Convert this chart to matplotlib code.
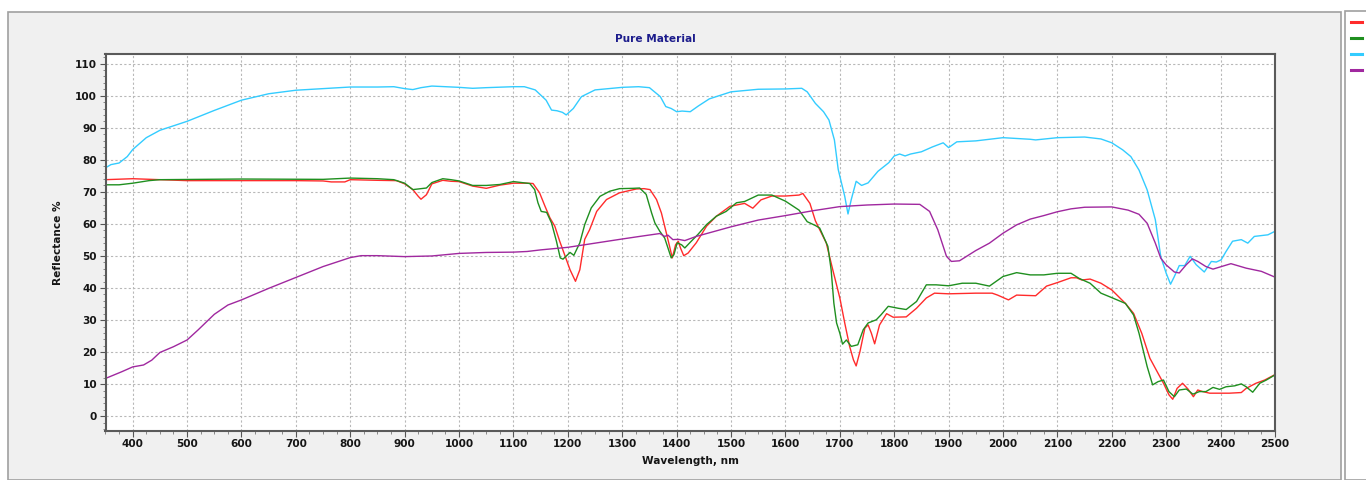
import numpy as np
import matplotlib
matplotlib.use('Agg')
import matplotlib.pyplot as plt
from matplotlib.patches import Rectangle
from matplotlib.lines import Line2D
from matplotlib.ticker import MultipleLocator

# spectra (wavelength nm, reflectance %)
red_wl = [350, 400, 450, 500, 600, 700, 750, 765, 790, 800, 850, 885, 900, 915, 925, 930, 940, 950,
          970, 985, 1000, 1025, 1050, 1075, 1100, 1125, 1136, 1148, 1158, 1167, 1176, 1185, 1194,
          1204, 1214, 1222, 1231, 1240, 1253, 1271, 1295, 1326, 1340, 1351, 1363, 1372, 1381, 1387,
          1392, 1398, 1403, 1407, 1413, 1421, 1436, 1455, 1473, 1498, 1525, 1540, 1555, 1575, 1600,
          1625, 1632, 1645, 1655, 1663, 1675, 1687, 1700, 1709, 1718, 1725, 1730, 1737, 1746, 1752,
          1758, 1764, 1773, 1786, 1798, 1822, 1841, 1859, 1874, 1900, 1950, 1980, 1990, 2010, 2025,
          2060, 2080, 2100, 2125, 2135, 2145, 2160, 2180, 2200, 2225, 2240, 2255, 2270, 2285, 2295,
          2305, 2312, 2320, 2330, 2340, 2350, 2358, 2367, 2380, 2416, 2438, 2447, 2465, 2481, 2500]
red_r = [73.8, 74.1, 73.8, 73.5, 73.5, 73.5, 73.4, 73.1, 73.1, 73.8, 73.6, 73.5, 72.5, 70.7, 68.6,
         67.7, 69.1, 72.5, 73.6, 73.3, 73.2, 71.8, 71.1, 72.1, 72.7, 72.7, 72.6, 69.7, 65.5, 61.9,
         59.3, 54.6, 50.4, 45.7, 42.1, 45.7, 55.2, 58.2, 63.9, 67.6, 69.7, 70.9, 71.0, 70.7, 67.6,
         63.4, 57.2, 53.0, 49.4, 53.5, 54.6, 52.5, 50.1, 50.9, 54.1, 59.3, 62.4, 65.5, 66.4, 64.9,
         67.5, 68.7, 68.7, 69.0, 69.5, 66.4, 61.0, 58.2, 54.1, 45.7, 36.9, 29.1, 21.8, 17.6, 15.7,
         20.2, 27.5, 28.5, 25.9, 22.6, 28.5, 32.0, 30.9, 31.0, 33.7, 36.9, 38.4, 38.2, 38.4, 38.4,
         37.8, 36.3, 37.8, 37.6, 40.6, 41.7, 43.2, 43.2, 42.5, 42.8, 41.5, 39.4, 35.2, 32.1, 25.9,
         18.1, 13.4, 10.3, 6.7, 5.3, 8.7, 10.3, 8.5, 6.1, 8.2, 7.7, 7.2, 7.2, 7.4, 8.7, 10.3, 11.3,
         13.0]

green_wl = [350, 375, 400, 430, 450, 600, 750, 800, 850, 880, 900, 915, 925, 940, 950, 970, 985,
            1000, 1025, 1050, 1075, 1100, 1130, 1139, 1145, 1151, 1161, 1170, 1179, 1186, 1191, 1204,
            1211, 1222, 1231, 1243, 1259, 1277, 1295, 1320, 1332, 1344, 1354, 1360, 1369, 1378, 1384,
            1390, 1395, 1401, 1409, 1415, 1424, 1439, 1455, 1473, 1491, 1510, 1525, 1550, 1575, 1600,
            1625, 1640, 1655, 1663, 1678, 1684, 1689, 1694, 1700, 1705, 1712, 1721, 1733, 1743, 1752,
            1767, 1776, 1789, 1807, 1822, 1841, 1859, 1877, 1900, 1925, 1950, 1975, 2000, 2025, 2050,
            2075, 2100, 2125, 2140, 2160, 2180, 2200, 2225, 2240, 2250, 2265, 2275, 2285, 2295, 2305,
            2315, 2324, 2337, 2349, 2361, 2373, 2386, 2398, 2410, 2426, 2438, 2447, 2459, 2472, 2484,
            2500]
green_r = [72.2, 72.2, 72.7, 73.5, 73.8, 74.0, 73.9, 74.3, 74.1, 73.8, 72.7, 70.7, 70.9, 71.2, 72.9,
           74.1, 73.8, 73.4, 72.0, 72.0, 72.3, 73.2, 72.6, 70.7, 66.6, 63.9, 63.6, 60.3, 54.6, 49.4,
           49.0, 51.1, 50.2, 54.1, 59.8, 65.0, 68.6, 70.2, 71.0, 71.1, 71.2, 69.2, 63.4, 60.3, 57.7,
           55.6, 52.5, 49.4, 50.4, 54.1, 53.5, 52.5, 54.1, 56.7, 59.8, 62.4, 63.9, 66.6, 67.0, 69.0,
           69.0, 67.1, 64.3, 60.7, 59.5, 58.7, 53.0, 45.7, 35.3, 29.1, 25.9, 22.5, 23.8, 21.8, 22.3,
           27.0, 29.1, 30.1, 31.7, 34.3, 33.7, 33.3, 35.8, 41.0, 41.0, 40.7, 41.5, 41.5, 40.6, 43.6,
           44.8, 44.1, 44.1, 44.6, 44.6, 43.0, 41.5, 38.4, 37.0, 35.2, 31.6, 25.9, 15.5, 9.8, 10.8,
           11.3, 7.7, 6.1, 8.2, 8.5, 6.9, 7.7, 7.7, 9.0, 8.4, 9.2, 9.5, 10.1, 9.2, 7.5, 10.3, 11.3,
           12.9]

cyan_wl = [350, 360, 375, 390, 400, 425, 450, 500, 550, 600, 650, 700, 750, 800, 850, 880, 900,
           915, 930, 950, 1000, 1025, 1050, 1100, 1120, 1140, 1160, 1170, 1180, 1190, 1197, 1210,
           1225, 1250, 1300, 1330, 1350, 1370, 1380, 1390, 1400, 1410, 1425, 1440, 1460, 1500, 1550,
           1600, 1630, 1640, 1655, 1670, 1680, 1690, 1697, 1709, 1715, 1721, 1730, 1740, 1752, 1770,
           1790, 1800, 1810, 1820, 1830, 1850, 1870, 1890, 1900, 1915, 1950, 2000, 2050, 2060, 2100,
           2150, 2180, 2200, 2220, 2235, 2250, 2265, 2280, 2290, 2300, 2308, 2315, 2324, 2334, 2344,
           2355, 2370, 2383, 2392, 2401, 2410, 2422, 2438, 2450, 2462, 2487, 2500]
cyan_r = [77.5, 78.5, 79.0, 81.0, 83.2, 86.9, 89.2, 92.0, 95.4, 98.6, 100.6, 101.7, 102.2, 102.7,
          102.7, 102.8, 102.2, 101.9, 102.5, 103.0, 102.6, 102.3, 102.5, 102.8, 102.8, 101.8, 98.6,
          95.5, 95.3, 94.8, 94.0, 96.0, 99.7, 101.8, 102.6, 102.8, 102.5, 99.7, 96.6, 96.0, 95.0,
          95.2, 95.0, 96.8, 99.0, 101.2, 102.0, 102.1, 102.3, 101.2, 97.6, 95.0, 92.4, 86.2, 77.0,
          68.6, 63.1, 67.6, 73.3, 72.0, 72.8, 76.4, 79.1, 81.2, 81.8, 81.2, 81.8, 82.5, 84.0, 85.3,
          83.8, 85.6, 85.9, 86.9, 86.4, 86.2, 86.9, 87.1, 86.5, 85.3, 83.1, 81.0, 76.8, 70.6, 61.3,
          49.8, 44.6, 41.2, 43.6, 47.0, 47.0, 49.9, 47.3, 45.0, 48.3, 48.1, 48.8, 51.4, 54.6, 55.1,
          54.0, 56.1, 56.6, 57.7]

magenta_wl = [350, 380, 400, 420, 435, 450, 475, 500, 520, 550, 575, 600, 650, 700, 750, 800, 820,
              850, 900, 950, 1000, 1050, 1100, 1125, 1150, 1200, 1250, 1300, 1332, 1369, 1378, 1384,
              1393, 1403, 1415, 1436, 1500, 1550, 1600, 1650, 1700, 1750, 1800, 1847, 1865, 1880,
              1896, 1905, 1920, 1950, 1975, 2000, 2025, 2050, 2075, 2100, 2125, 2150, 2200, 2230,
              2250, 2265, 2280, 2290, 2300, 2315, 2324, 2337, 2348, 2358, 2373, 2386, 2419, 2447,
              2475, 2500]
magenta_r = [11.8, 13.9, 15.4, 16.0, 17.5, 19.9, 21.7, 23.8, 26.9, 31.8, 34.7, 36.3, 39.9, 43.3,
             46.7, 49.5, 50.1, 50.1, 49.8, 50.0, 50.8, 51.1, 51.2, 51.4, 51.9, 52.7, 54.0, 55.3,
             56.1, 57.0, 56.1, 56.5, 55.1, 55.2, 54.8, 56.1, 59.1, 61.2, 62.6, 64.1, 65.4, 65.9,
             66.2, 66.1, 63.9, 58.2, 49.9, 48.3, 48.5, 51.7, 54.0, 57.1, 59.7, 61.5, 62.6, 63.8,
             64.7, 65.2, 65.3, 64.3, 63.0, 60.2, 54.0, 49.3, 47.2, 45.0, 44.7, 47.3, 49.1, 48.3,
             46.7, 45.9, 47.6, 46.2, 45.2, 43.4]

colors = ['#ff2b2b', '#1f8f1f', '#33ccff', '#a0289f']
series = [(red_wl, red_r), (green_wl, green_r), (cyan_wl, cyan_r), (magenta_wl, magenta_r)]

W, H = 1366, 480
fig = plt.figure(figsize=(W / 100, H / 100), dpi=100, facecolor='white')

# grey chart panel and white legend strip
fig.patches.append(Rectangle((8 / W, 0), (1341 - 8) / W, 1 - 12 / H, transform=fig.transFigure,
                             facecolor='#f0f0f0', edgecolor='#a0a0a0', lw=1.2, zorder=-10))
fig.patches.append(Rectangle((1345 / W, 0), (W - 1345) / W + 0.01, 1 - 11 / H, transform=fig.transFigure,
                             facecolor='white', edgecolor='#a0a0a0', lw=1.2, zorder=-10))

ax = fig.add_axes([105.5 / W, 1 - 430.7 / H, (1275 - 105.5) / W, (430.7 - 54) / H])
ax.set_zorder(5)
ax.set_facecolor('white')

for (wl, r), c in zip(series, colors):
    ax.plot(wl, r, color=c, lw=1.0)

ax.set_xlim(350, 2500)
ax.set_ylim(-4.5, 113)
ax.xaxis.set_major_locator(MultipleLocator(100))
ax.xaxis.set_minor_locator(MultipleLocator(25))
ax.yaxis.set_major_locator(MultipleLocator(10))
ax.yaxis.set_minor_locator(MultipleLocator(2))
ax.set_xticks(np.arange(400, 2501, 100))
ax.grid(True, which='major', color='#b8b8b8', lw=0.8, ls=(0, (2, 2)))
ax.tick_params(which='major', direction='out', length=4, width=0.8, color='#555555',
               labelsize=7.6, labelcolor='#151515', pad=2)
ax.tick_params(which='minor', direction='out', length=2.5, width=0.6, color='#777777')
for lab in ax.get_xticklabels() + ax.get_yticklabels():
    lab.set_fontweight('bold')
for s in ax.spines.values():
    s.set_color('#5a5a5a')
    s.set_linewidth(1.5)

ax.set_xlabel('Wavelength, nm', fontsize=7.6, fontweight='bold', color='#151515')
ax.set_ylabel('Reflectance %', fontsize=7.6, fontweight='bold', color='#151515')
ax.xaxis.set_label_coords(0.5, -0.068)
ax.yaxis.set_label_coords(-0.036, 0.5)

fig.text(655 / W, 1 - 39 / H, 'Pure Material', ha='center', va='center', fontsize=7.6,
         fontweight='bold', color='#1c1c8c')

# legend swatches (no labels in the original)
for i, c in enumerate(colors):
    y = 1 - (22.3 + 16 * i) / H
    fig.lines.append(Line2D([1351 / W, 1362 / W], [y, y], transform=fig.transFigure,
                            color=c, lw=2.2))

fig.savefig('out.png', dpi=100, facecolor=fig.get_facecolor())
